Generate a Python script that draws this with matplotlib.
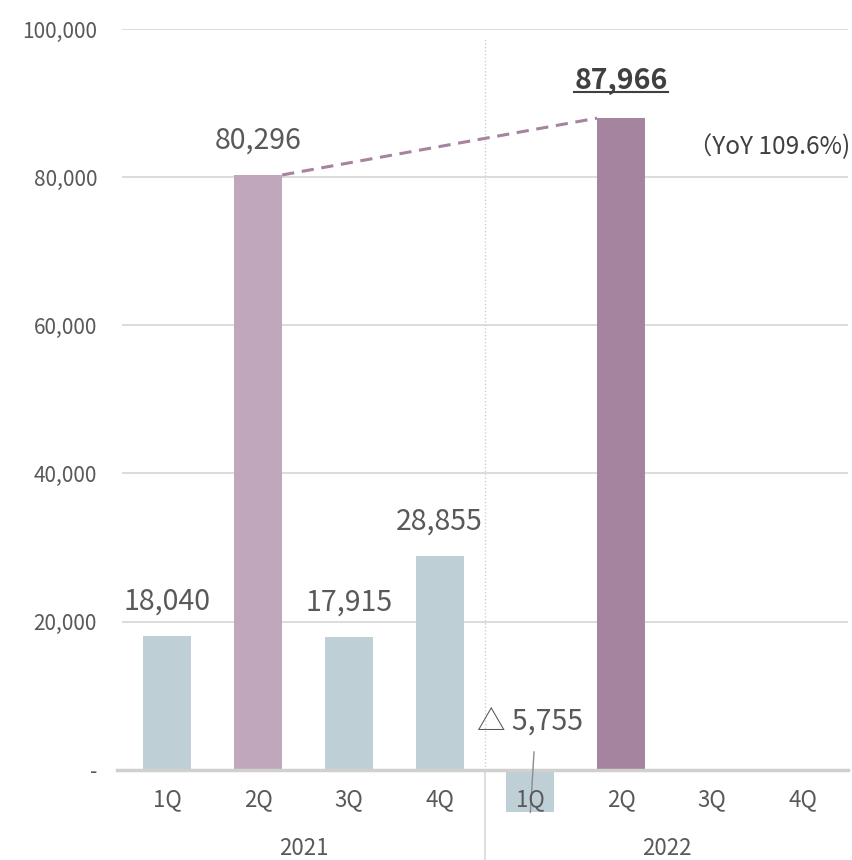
import matplotlib.pyplot as plt
from matplotlib.lines import Line2D

plt.rcParams['font.family'] = ['Noto Sans CJK JP', 'DejaVu Sans']

# quarterly figures, 2021 then 2022
quarters = ['1Q', '2Q', '3Q', '4Q', '1Q', '2Q', '3Q', '4Q']
years = ['2021', '2022']
values = [18040, 80296, 17915, 28855, -5755, 87966]
value_labels = ['18,040', '80,296', '17,915', '28,855', '△ 5,755', '87,966']
yoy_label = '（YoY 109.6%)'
yticks = [0, 20000, 40000, 60000, 80000, 100000]
ytick_labels = ['-', '20,000', '40,000', '60,000', '80,000', '100,000']

c_base = '#bfcfd6'
c_prev = '#c1a7bc'
c_curr = '#a5849f'
txt = '#595959'
colors = [c_base, c_prev, c_base, c_base, c_base, c_curr]

fig = plt.figure(figsize=(8.52, 8.6), dpi=100)
ax = fig.add_axes([0.1432, 0.036, 0.8521, 0.9303])

w = 0.53
xs = list(range(len(values)))
ax.bar(xs, values, width=w, color=colors, zorder=3)

ax.set_xlim(-0.5, 7.5)
ax.set_ylim(-8000, 100000)
for s in ax.spines.values():
    s.set_visible(False)
ax.set_xticks([])
ax.set_yticks(yticks)
ax.set_yticklabels(ytick_labels, fontsize=15, color=txt)
ax.tick_params(axis='y', length=0, pad=18)

# gridlines and zero line
for y in yticks[1:]:
    ax.axhline(y, color='#d9d9d9', lw=1.3, zorder=1)
ax.plot([-0.55, 7.5], [0, 0], color='#d0d0d0', lw=2.5, zorder=4, clip_on=False)

# year separator
ax.plot([3.5, 3.5], [0, 98800], color='#d0d0d0', lw=1, ls=(0, (1, 1.5)), zorder=1)
ax.plot([3.5, 3.5], [0, -12300], color='#d9d9d9', lw=1.2, clip_on=False)

# category and year labels
for i, q in enumerate(quarters):
    ax.text(i, -4050, q, ha='center', va='center', fontsize=16, color=txt, zorder=6)
for i, yr in enumerate(years):
    ax.text(1.5 + 4 * i, -10600, yr, ha='center', va='center', fontsize=16,
            color=txt, clip_on=False)

# value labels
for i in range(4):
    ax.annotate(value_labels[i], (xs[i], values[i]), xytext=(0, 14),
                textcoords='offset points', ha='center', va='bottom',
                fontsize=20.5, color=txt)
neg = ax.text(4, 6500, value_labels[4], ha='center', va='center', fontsize=20.5, color=txt)
ax.plot([4.04, 4.0], [2400, values[4]], color='#8c8c8c', lw=1, zorder=5)

top = ax.text(5, 93000, value_labels[5], ha='center', va='center', fontsize=20.5,
              color='#404040', fontweight='bold')
ax.text(7.52, 84000, yoy_label, ha='right', va='center', fontsize=17.5, color='#404040')

# growth line between the two 2Q bars
ax.plot([1 + w / 2, 5 - w / 2], [values[1], values[5]], color=c_curr, lw=2.2,
        ls=(0, (4, 2.5)), zorder=4)

# underline the latest figure
fig.canvas.draw()
bb = top.get_window_extent()
inv = fig.transFigure.inverted()
(x0, y0), (x1, _) = inv.transform([(bb.x0, bb.y0 + 3), (bb.x1, bb.y0)])
fig.add_artist(Line2D([x0, x1], [y0, y0], color='#404040', lw=1.5))

fig.savefig('out.png', dpi=100)
